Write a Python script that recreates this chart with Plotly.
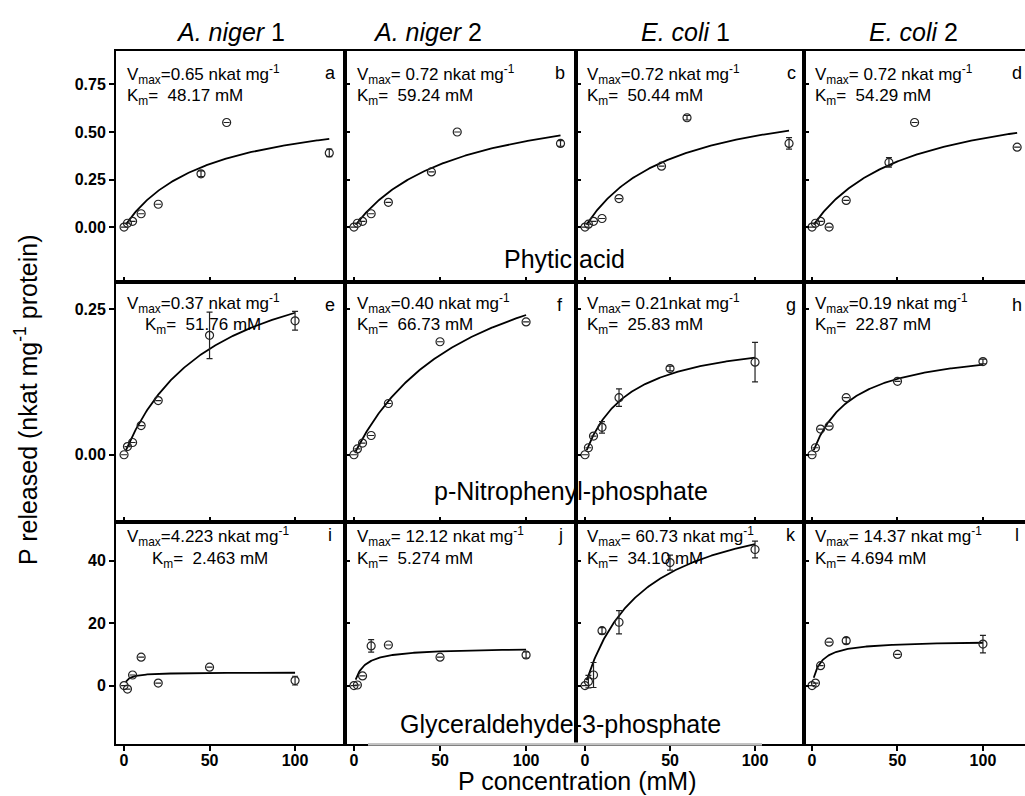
import numpy as np
import plotly.graph_objects as go

# ---------------- data ----------------
strain_names = ["A. niger", "A. niger", "E. coli", "E. coli"]
strain_nums = ["1", "2", "1", "2"]
substrates = ["Phytic acid", "p-Nitrophenyl-phosphate", "Glyceraldehyde-3-phosphate"]
panel_letters = [["a", "b", "c", "d"], ["e", "f", "g", "h"], ["i", "j", "k", "l"]]

# Phytic acid (row 1)
phytic_conc = [0, 2, 5, 10, 20, 45, 60, 120]
phytic_an1 = [0.00, 0.02, 0.03, 0.07, 0.12, 0.28, 0.55, 0.39]
phytic_an2 = [0.00, 0.02, 0.03, 0.07, 0.13, 0.29, 0.50, 0.44]
phytic_ec1 = [0.00, 0.015, 0.03, 0.045, 0.15, 0.32, 0.575, 0.44]
phytic_ec2 = [0.00, 0.02, 0.03, 0.00, 0.14, 0.34, 0.55, 0.42]
phytic_an1_err = [0, 0, 0, 0, 0, 0.015, 0, 0.02]
phytic_an2_err = [0, 0, 0, 0, 0, 0, 0, 0.015]
phytic_ec1_err = [0, 0, 0, 0, 0, 0, 0.012, 0.03]
phytic_ec2_err = [0, 0, 0, 0, 0, 0.025, 0, 0]
phytic_vmax = [0.65, 0.72, 0.72, 0.72]
phytic_km = [48.17, 59.24, 50.44, 54.29]

# p-Nitrophenyl-phosphate (row 2)
pnpp_conc = [0, 2, 5, 10, 20, 50, 100]
pnpp_an1 = [0.0, 0.014, 0.021, 0.05, 0.093, 0.205, 0.23]
pnpp_an2 = [0.0, 0.01, 0.02, 0.033, 0.088, 0.194, 0.228]
pnpp_ec1 = [0.0, 0.012, 0.032, 0.047, 0.098, 0.148, 0.159]
pnpp_ec2 = [0.0, 0.012, 0.044, 0.049, 0.098, 0.126, 0.16]
pnpp_an1_err = [0, 0, 0, 0, 0, 0.04, 0.016]
pnpp_an2_err = [0, 0, 0, 0, 0, 0, 0]
pnpp_ec1_err = [0, 0, 0, 0.01, 0.015, 0.004, 0.034]
pnpp_ec2_err = [0, 0, 0, 0, 0, 0, 0.004]
pnpp_vmax = [0.37, 0.40, 0.21, 0.19]
pnpp_km = [51.76, 66.73, 25.83, 22.87]

# Glyceraldehyde-3-phosphate (row 3)
g3p_conc = [0, 2, 5, 10, 20, 50, 100]
g3p_an1 = [0, -1.1, 3.4, 9.1, 0.8, 5.9, 1.6]
g3p_an2 = [0, 0.2, 3.1, 12.7, 13.0, 9.1, 9.8]
g3p_ec1 = [0, 1.3, 3.4, 17.6, 20.3, 39.4, 43.6]
g3p_ec2 = [0, 0.8, 6.4, 13.9, 14.4, 10.0, 13.3]
g3p_an1_err = [0, 0, 0, 0, 0, 0, 1.4]
g3p_an2_err = [0, 0, 0, 2.0, 0, 0, 1.0]
g3p_ec1_err = [0, 2.0, 4.0, 1.0, 3.7, 2.4, 2.7]
g3p_ec2_err = [0, 0, 0, 0, 1.0, 0, 2.8]
g3p_vmax = [4.223, 12.12, 60.73, 14.37]
g3p_km = [2.463, 5.274, 34.10, 4.694]

# annotation texts (as printed on each panel)
vmax_texts = [
    ["=0.65 nkat mg", "= 0.72 nkat mg", "=0.72 nkat mg", "= 0.72 nkat mg"],
    ["=0.37 nkat mg", "=0.40 nkat mg", "= 0.21nkat mg", "=0.19 nkat mg"],
    ["=4.223 nkat mg", "= 12.12 nkat mg", "= 60.73 nkat mg", "= 14.37 nkat mg"],
]
km_texts = [
    ["=  48.17 mM", "=  59.24 mM", "=  50.44 mM", "=  54.29 mM"],
    ["=  51.76 mM", "=  66.73 mM", "=  25.83 mM", "=  22.87 mM"],
    ["=  2.463 mM", "=  5.274 mM", "=  34.10 mM", "= 4.694 mM"],
]

rows = [
    (phytic_conc, [phytic_an1, phytic_an2, phytic_ec1, phytic_ec2],
     [phytic_an1_err, phytic_an2_err, phytic_ec1_err, phytic_ec2_err], phytic_vmax, phytic_km),
    (pnpp_conc, [pnpp_an1, pnpp_an2, pnpp_ec1, pnpp_ec2],
     [pnpp_an1_err, pnpp_an2_err, pnpp_ec1_err, pnpp_ec2_err], pnpp_vmax, pnpp_km),
    (g3p_conc, [g3p_an1, g3p_an2, g3p_ec1, g3p_ec2],
     [g3p_an1_err, g3p_an2_err, g3p_ec1_err, g3p_ec2_err], g3p_vmax, g3p_km),
]

# ---------------- layout geometry ----------------
W, H = 1025, 796
FONT = "Liberation Sans, Arial, sans-serif"
col_px = [(116, 345), (345, 576), (576, 804), (804, 1025)]
row_px = [(51, 282), (282, 522), (522, 744)]
xranges = [[-4.7, 129.2], [-5.2, 129.0], [-5.3, 128.8], [-4.7, 124.6]]
yranges = [[-0.289, 0.926], [-0.1155, 0.2966], [-18.7, 52.4]]
ytickvals = [[0, 0.25, 0.5, 0.75], [0, 0.25], [0, 20, 40]]
ytickfmt = [".2f", ".2f", "d"]
xtickvals = [0, 50, 100]


def px(x):
    return x / W


def py(y):
    return 1 - y / H


fig = go.Figure()
layout = {}
annotations = []
tickfont = dict(family=FONT, size=16, color="black", weight="bold")

for r in range(3):
    conc, ys, errs, vmaxs, kms = rows[r]
    for c in range(4):
        idx = r * 4 + c + 1
        xs = "" if idx == 1 else str(idx)
        xname, yname = "x" + xs, "y" + xs
        # fitted Michaelis-Menten curve from the printed Vmax / Km
        xc = np.linspace(1, max(conc), 200)
        yc = vmaxs[c] * xc / (kms[c] + xc)
        fig.add_trace(go.Scatter(x=xc, y=yc, mode="lines", line=dict(color="black", width=1.8),
                                 xaxis=xname, yaxis=yname, showlegend=False, hoverinfo="skip"))
        fig.add_trace(go.Scatter(
            x=conc, y=ys[c], mode="markers",
            marker=dict(symbol="circle-open", size=8, color="#222", line=dict(width=1.2, color="#222")),
            error_y=dict(type="data", array=errs[c], visible=True, color="#222", thickness=1.2, width=3),
            xaxis=xname, yaxis=yname, showlegend=False))

        x0, x1 = col_px[c]
        y0, y1 = row_px[r]
        layout["xaxis" + xs] = dict(
            domain=[px(x0), px(x1)], range=xranges[c], anchor=yname,
            tickvals=xtickvals, ticks="outside" if r == 2 else "inside", ticklen=5,
            tickwidth=1.5, tickcolor="black", showticklabels=(r == 2), tickfont=tickfont,
            ticklabelstandoff=-4,
            showline=True, linewidth=2, linecolor="black", mirror=True,
            showgrid=False, zeroline=False)
        layout["yaxis" + xs] = dict(
            domain=[py(y1), py(y0)], range=yranges[r], anchor=xname,
            tickvals=ytickvals[r], tickformat=ytickfmt[r],
            ticks="outside" if c == 0 else "inside", ticklen=5, tickwidth=1.5, tickcolor="black",
            showticklabels=(c == 0), tickfont=tickfont,
            showline=True, linewidth=2, linecolor="black", mirror=(c < 3),
            showgrid=False, zeroline=False)

# panel text positions (pixels)
v_y = [74, 303, 536]
k_y = [97, 326, 560]
letter_y = [73, 305, 535]
letter_x = [330, 560, 791, 1017]
text_x = [125, 355, 585, 813]
k_indent = [[0, 0, 0, 0], [18, 0, 0, 0], [25, 0, 0, 0]]
ann_font = dict(family=FONT, size=17, color="black")

for r in range(3):
    for c in range(4):
        annotations.append(dict(
            x=px(text_x[c]), y=py(v_y[r]), xref="paper", yref="paper",
            xanchor="left", yanchor="middle", showarrow=False, font=ann_font,
            text="V<sub>max</sub>" + vmax_texts[r][c] + "<sup>-1</sup>"))
        annotations.append(dict(
            x=px(text_x[c] + k_indent[r][c]), y=py(k_y[r]), xref="paper", yref="paper",
            xanchor="left", yanchor="middle", showarrow=False, font=ann_font,
            text="K<sub>m</sub>" + km_texts[r][c]))
        annotations.append(dict(
            x=px(letter_x[c]), y=py(letter_y[r]), xref="paper", yref="paper",
            xanchor="center", yanchor="middle", showarrow=False,
            font=dict(family=FONT, size=18, color="black"), text=panel_letters[r][c]))

# column headers
head_x = [230, 427, 685, 913]
for c in range(4):
    annotations.append(dict(
        x=px(head_x[c]), y=py(32), xref="paper", yref="paper",
        xanchor="center", yanchor="middle", showarrow=False,
        font=dict(family=FONT, size=25, color="black"),
        text="<i>" + strain_names[c] + "</i> " + strain_nums[c]))

# substrate labels
sub_pos = [(564, 259), (571, 491), (560, 724)]
for r in range(3):
    annotations.append(dict(
        x=px(sub_pos[r][0]), y=py(sub_pos[r][1]), xref="paper", yref="paper",
        xanchor="center", yanchor="middle", showarrow=False,
        font=dict(family=FONT, size=25, color="black"), text=substrates[r]))

# axis titles
annotations.append(dict(
    x=px(577), y=py(781), xref="paper", yref="paper", xanchor="center", yanchor="middle",
    showarrow=False, font=dict(family=FONT, size=25, color="black"),
    text="P concentration (mM)"))
annotations.append(dict(
    x=px(26), y=py(400), xref="paper", yref="paper", xanchor="center", yanchor="middle",
    showarrow=False, textangle=-90, font=dict(family=FONT, size=25, color="black"),
    text="P released (nkat mg<sup>-1</sup> protein)"))

# faded bottom border segment under the G3P label (as in the scanned original)
shapes = [
    dict(type="line", xref="paper", yref="paper", x0=px(368), x1=px(762), y0=py(744), y1=py(744),
         line=dict(color="white", width=3), layer="above"),
    dict(type="line", xref="paper", yref="paper", x0=px(368), x1=px(762), y0=py(744), y1=py(744),
         line=dict(color="#888", width=1), layer="above"),
]

fig.update_layout(
    width=W, height=H, margin=dict(l=0, r=0, t=0, b=0),
    paper_bgcolor="white", plot_bgcolor="white",
    font=dict(family=FONT, color="black"),
    annotations=annotations, shapes=shapes, **layout)

fig.write_html("out.html", config={"displayModeBar": False},
               post_script="document.body.style.margin='0';document.body.style.padding='0';"
                           "document.body.style.overflow='hidden';")
